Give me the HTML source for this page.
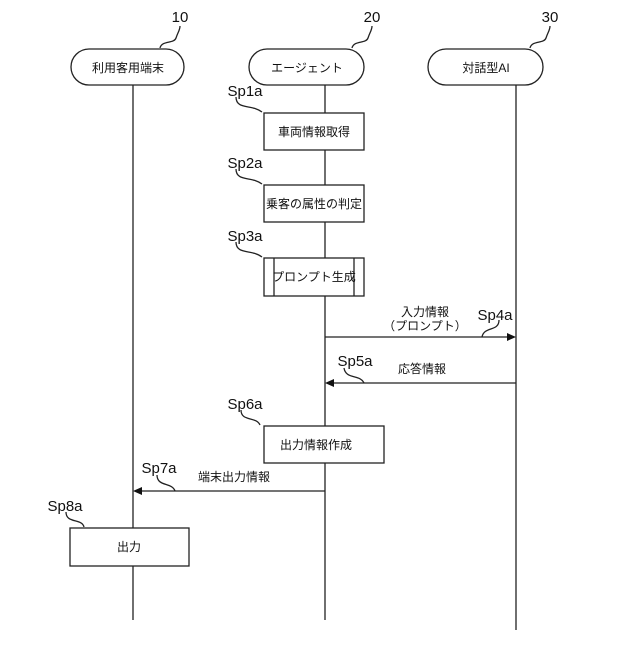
<!DOCTYPE html>
<html><head><meta charset="utf-8"><style>
body{margin:0;background:#fff}
svg text{font-family:"Liberation Sans","Noto Sans CJK JP",sans-serif;fill:#111}
</style></head><body>
<svg width="640" height="640" viewBox="0 0 640 640" xmlns="http://www.w3.org/2000/svg">
<g stroke="#222" stroke-width="1.3" fill="none">
<line x1="133" y1="85" x2="133" y2="620"/>
<line x1="325" y1="85" x2="325" y2="620"/>
<line x1="516" y1="85" x2="516" y2="630"/>
<rect x="71" y="49" width="113" height="36" rx="18" fill="#fff"/>
<rect x="249" y="49" width="115" height="36" rx="18" fill="#fff"/>
<rect x="428" y="49" width="115" height="36" rx="18" fill="#fff"/>
<rect x="264" y="113" width="100" height="37" fill="#fff"/>
<rect x="264" y="185" width="100" height="37" fill="#fff"/>
<rect x="264" y="258" width="100" height="38" fill="#fff"/>
<line x1="274" y1="258" x2="274" y2="296"/>
<line x1="354" y1="258" x2="354" y2="296"/>
<rect x="264" y="426" width="120" height="37" fill="#fff"/>
<rect x="70" y="528" width="119" height="38" fill="#fff"/>
<line x1="325" y1="337" x2="510" y2="337"/>
<line x1="330" y1="383" x2="516" y2="383"/>
<line x1="138" y1="491" x2="325" y2="491"/>
<path d="M160 48 C162 40,174 44,176 38 C178 32,180 30,180 26"/>
<path d="M352 48 C354 40,366 44,368 38 C370 32,372 30,372 26"/>
<path d="M530 48 C532 40,544 44,546 38 C548 32,550 30,550 26"/>
<path d="M236 97 C236 110,252 104,262 112"/>
<path d="M236 169 C236 182,252 176,262 184"/>
<path d="M236 242 C236 255,252 249,262 257"/>
<path d="M499 320 C499 332,484 326,482 337"/>
<path d="M344 368 C346 380,360 374,364 383"/>
<path d="M241 410 C241 422,256 416,260 425"/>
<path d="M157 475 C157 487,172 482,175 491"/>
<path d="M66 512 C66 524,82 518,84 527"/>
</g>
<polygon points="516,337 507,333 507,341" fill="#111"/>
<polygon points="325,383 334,379 334,387" fill="#111"/>
<polygon points="133,491 142,487 142,495" fill="#111"/>
<g font-size="12" text-anchor="middle">
<text x="128" y="72">利用客用端末</text>
<text x="307" y="72">エージェント</text>
<text x="486" y="72">対話型AI</text>
<text x="314" y="136">車両情報取得</text>
<text x="314" y="208">乗客の属性の判定</text>
<text x="314" y="281">プロンプト生成</text>
<text x="425" y="316">入力情報</text>
<text x="425" y="330">（プロンプト）</text>
<text x="422" y="373">応答情報</text>
<text x="316" y="449">出力情報作成</text>
<text x="234" y="481">端末出力情報</text>
<text x="129" y="551">出力</text>
</g>
<g font-size="15" text-anchor="middle">
<text x="180" y="22">10</text>
<text x="372" y="22">20</text>
<text x="550" y="22">30</text>
<text x="245" y="96">Sp1a</text>
<text x="245" y="168">Sp2a</text>
<text x="245" y="241">Sp3a</text>
<text x="495" y="320">Sp4a</text>
<text x="355" y="366">Sp5a</text>
<text x="245" y="409">Sp6a</text>
<text x="159" y="473">Sp7a</text>
<text x="65" y="511">Sp8a</text>
</g>
</svg>
</body></html>
